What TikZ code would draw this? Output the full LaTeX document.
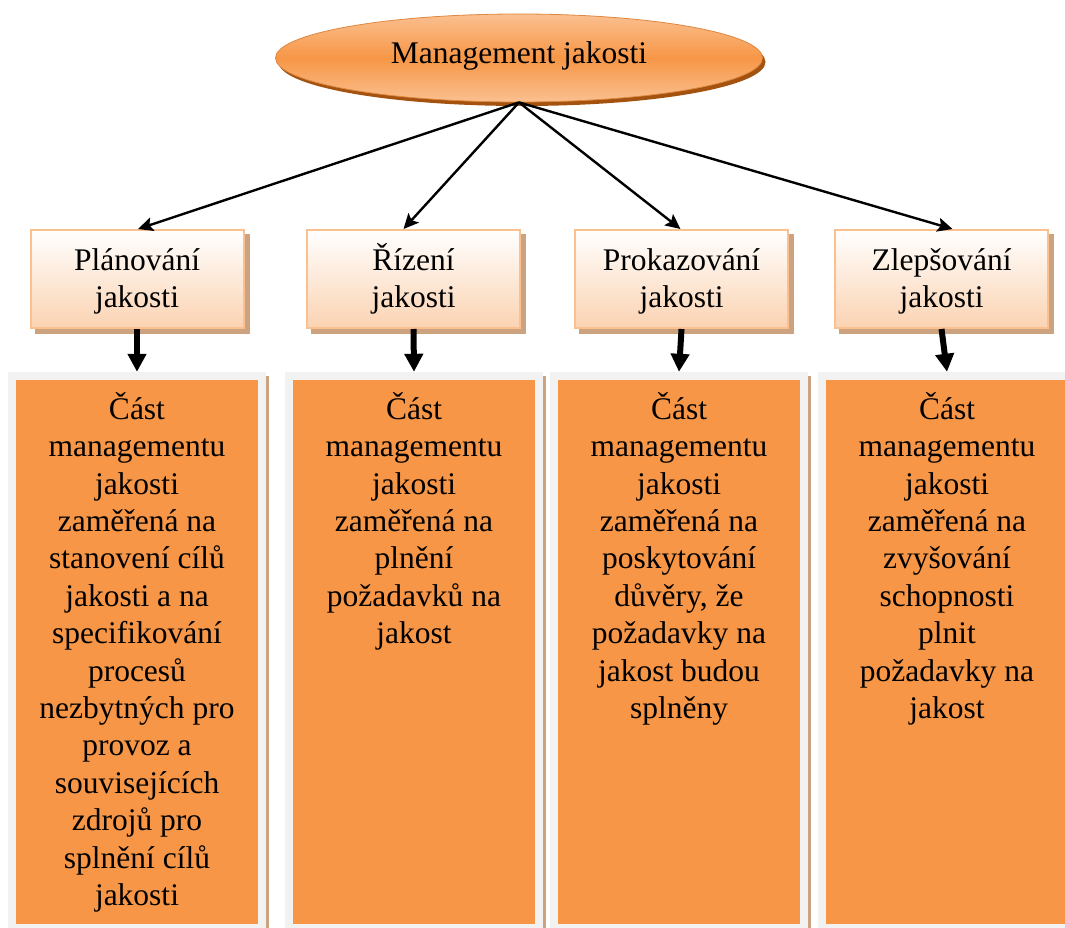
\documentclass[tikz,border=0pt]{standalone}
\usepackage{fontspec}
\setmainfont{Liberation Serif}
\usetikzlibrary{arrows.meta,shapes.geometric,calc}
\definecolor{orng}{HTML}{F79646}
\definecolor{orngl}{HTML}{FAC090}
\definecolor{orngd}{HTML}{A3520F}
\definecolor{peach}{HTML}{FBD3B2}
\definecolor{boxline}{HTML}{FAC090}
\definecolor{tanshadow}{HTML}{CCA27F}
\definecolor{frame}{HTML}{F2F2F2}
\begin{document}
\begin{tikzpicture}[x=1pt,y=-1pt,
  every node/.style={font=\fontsize{31.5}{37.4}\selectfont, inner sep=0pt},
  eshape/.style={ellipse, minimum width=487pt, minimum height=88pt},
  topbox/.style={rectangle, draw=boxline, line width=2pt, top color=white, bottom color=peach,
    minimum width=213pt, minimum height=98pt, align=center},
  topshadow/.style={rectangle, fill=tanshadow, minimum width=215pt, minimum height=100pt},
  framebox/.style={rectangle, fill=frame, minimum width=258pt, minimum height=560pt},
  frameshadow/.style={rectangle, fill=tanshadow, minimum width=258pt, minimum height=560pt},
  orangebox/.style={rectangle, fill=orng, minimum width=242pt, minimum height=544pt},
  desc/.style={anchor=north, align=center},
  thinarrow/.style={line width=2.4pt, -{Stealth[length=15pt,width=14pt,inset=3pt]}},
  thickarrow/.style={line width=6pt, -{Triangle[length=18pt,width=18pt]}}
]
\useasboundingbox (0,0) rectangle (1065,928);

% ellipse
\node[eshape, fill=orngd] (es) at (522,62) {};
\node[eshape, draw=orng!90!black, line width=0.8pt, top color=orngl, bottom color=orngl, middle color=orng,
  text height=23pt, text depth=11pt] (e) at (519,58) {Management jakosti};

% top boxes
\node[topshadow] (s1) at (142,284) {};
\node[topshadow] (s2) at (418.5,284) {};
\node[topshadow] (s3) at (686.5,284) {};
\node[topshadow] (s4) at (946.5,284) {};
\node[topbox] (t1) at (137,279) {\rule{0pt}{27pt}Plánování\\jakosti\rule[-5.6pt]{0pt}{5.6pt}};
\node[topbox] (t2) at (413.5,279) {\rule{0pt}{27pt}Řízení\\jakosti\rule[-5.6pt]{0pt}{5.6pt}};
\node[topbox] (t3) at (681.5,279) {\rule{0pt}{27pt}Prokazování\\jakosti\rule[-5.6pt]{0pt}{5.6pt}};
\node[topbox] (t4) at (941.5,279) {\rule{0pt}{27pt}Zlepšování\\jakosti\rule[-5.6pt]{0pt}{5.6pt}};

% bottom boxes
\node[frameshadow] (h1) at (140,656) {};
\node[frameshadow] (h2) at (417,656) {};
\node[frameshadow] (h3) at (682,656) {};
\node[frameshadow] (h4) at (950,656) {};
\node[framebox] (g1) at (137,652) {};
\node[framebox] (g2) at (414,652) {};
\node[framebox] (g3) at (679,652) {};
\node[framebox] (g4) at (947,652) {};
\node[orangebox] (b1) at (137,652) {};
\node[orangebox] (b2) at (414,652) {};
\node[orangebox] (b3) at (679,652) {};
\node[orangebox] (b4) at (947,652) {};

\node[desc] (x1) at (137,391) {\rule{0pt}{28pt}Část\\managementu\\jakosti\\zaměřená na\\stanovení cílů\\jakosti a na\\specifikování\\procesů\\nezbytných pro\\provoz a\\souvisejících\\zdrojů pro\\splnění cílů\\jakosti};
\node[desc] (x2) at (414,391) {\rule{0pt}{28pt}Část\\managementu\\jakosti\\zaměřená na\\plnění\\požadavků na\\jakost};
\node[desc] (x3) at (679,391) {\rule{0pt}{28pt}Část\\managementu\\jakosti\\zaměřená na\\poskytování\\důvěry, že\\požadavky na\\jakost budou\\splněny};
\node[desc] (x4) at (947,391) {\rule{0pt}{28pt}Část\\managementu\\jakosti\\zaměřená na\\zvyšování\\schopnosti\\plnit\\požadavky na\\jakost};

% connectors
\coordinate (a1) at ($(t1.north)+(1,0)$);
\coordinate (a2) at ($(t2.north)+(-10,0)$);
\coordinate (a3) at ($(t3.north)+(-1,0)$);
\coordinate (a4) at ($(t4.north)+(11,0)$);
\draw[thinarrow] (e.south) -- (a1);
\draw[thinarrow] (e.south) -- (a2);
\draw[thinarrow] (e.south) -- (a3);
\draw[thinarrow] (e.south) -- (a4);

\draw[thickarrow] (t1.south) -- (g1.north);
\draw[thickarrow] (t2.south) -- (g2.north);
\draw[thickarrow] (t3.south) -- (g3.north);
\draw[thickarrow] (t4.south) -- (g4.north);
\end{tikzpicture}
\end{document}
